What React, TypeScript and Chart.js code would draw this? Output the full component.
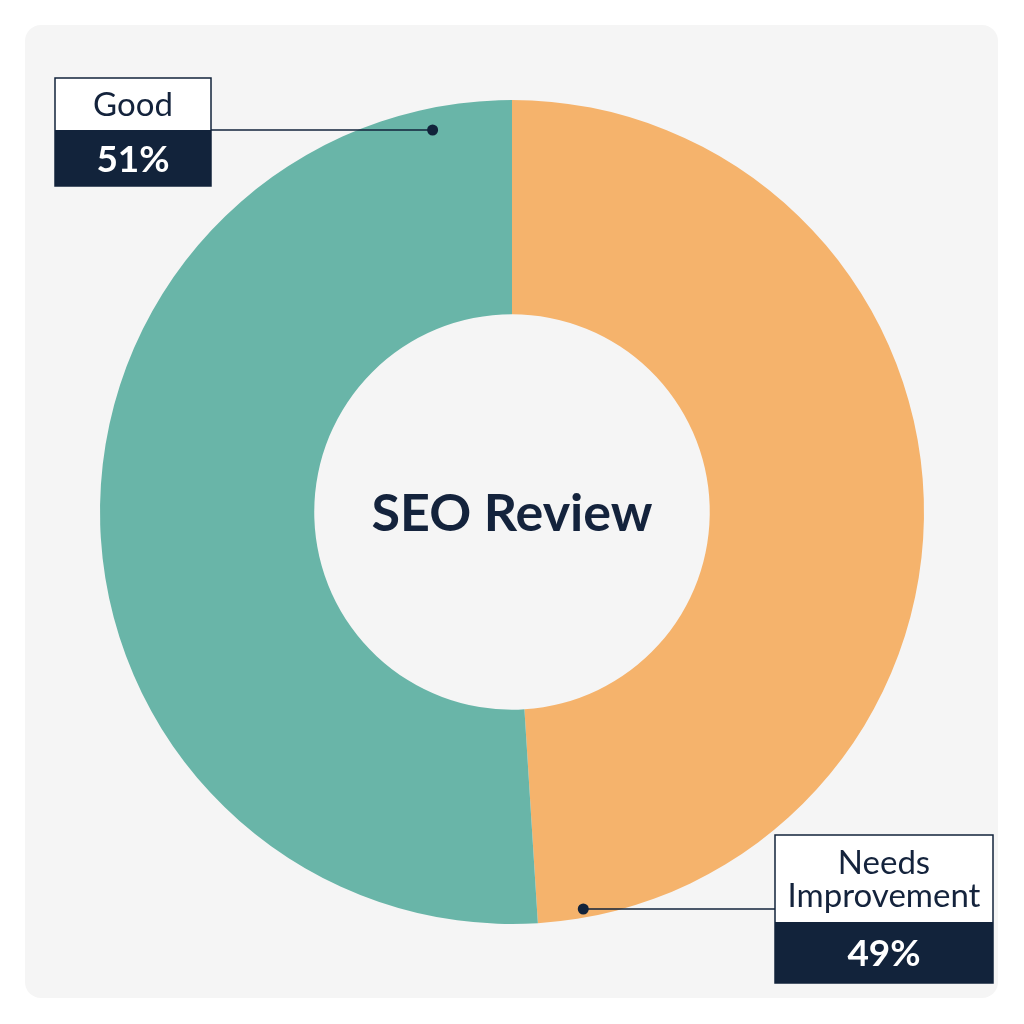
import React, { useEffect, useRef } from "react";
import { Chart, registerables } from "chart.js";

Chart.register(...registerables);

const categories = ["Needs Improvement", "Good"];
const labelLines = [["Needs", "Improvement"], ["Good"]];
const values = [49, 51];
const colors = ["#F5B36C", "#69B5A8"];
const centerTitle = "SEO Review";

const NAVY = "#12233B";
const FONT = "Lato, 'Noto Sans', sans-serif";

// callout layout (positions only)
const calloutLayout = [
  { x: 775, y: 835, w: 218, topH: 87, botH: 61, lineY: 909, rFactor: 0.979, side: "left" },
  { x: 55, y: 78, w: 156, topH: 52, botH: 56, lineY: 130, rFactor: 0.947, side: "right" },
];

const panelPlugin = {
  id: "panel",
  beforeDraw(chart: any) {
    const ctx = chart.ctx;
    ctx.save();
    ctx.fillStyle = "#FFFFFF";
    ctx.fillRect(0, 0, chart.width, chart.height);
    ctx.fillStyle = "#F5F5F5";
    ctx.beginPath();
    ctx.roundRect(25, 25, 973, 973, 16);
    ctx.fill();
    ctx.restore();
  },
};

const overlayPlugin = {
  id: "overlay",
  afterDraw(chart: any) {
    const ctx = chart.ctx;
    const meta = chart.getDatasetMeta(0);
    const arc0 = meta.data[0];
    const cx = arc0.x;
    const cy = arc0.y;
    const outerR = arc0.outerRadius;
    ctx.save();
    // center title
    ctx.fillStyle = "#14233C";
    ctx.font = `bold 52px ${FONT}`;
    ctx.textAlign = "center";
    ctx.textBaseline = "middle";
    ctx.fillText(centerTitle, cx, cy + 2);

    const total = values.reduce((a, b) => a + b, 0);
    calloutLayout.forEach((L, i) => {
      const pct = Math.round((values[i] / total) * 100);
      // connector
      const r = outerR * L.rFactor;
      const dy = L.lineY - cy;
      const dx = Math.sqrt(Math.max(0, r * r - dy * dy));
      const dotX = L.side === "right" ? cx - dx : cx + dx;
      const boxEdge = L.side === "right" ? L.x + L.w : L.x;
      ctx.strokeStyle = NAVY;
      ctx.lineWidth = 1.6;
      ctx.beginPath();
      ctx.moveTo(boxEdge, L.lineY);
      ctx.lineTo(dotX, L.lineY);
      ctx.stroke();
      ctx.fillStyle = NAVY;
      ctx.beginPath();
      ctx.arc(dotX, L.lineY, 5.5, 0, Math.PI * 2);
      ctx.fill();
      // box
      ctx.fillStyle = "#FFFFFF";
      ctx.fillRect(L.x, L.y, L.w, L.topH);
      ctx.fillStyle = NAVY;
      ctx.fillRect(L.x, L.y + L.topH, L.w, L.botH);
      ctx.strokeStyle = NAVY;
      ctx.lineWidth = 1.5;
      ctx.strokeRect(L.x, L.y, L.w, L.topH + L.botH);
      // label text
      const lines = labelLines[i];
      ctx.fillStyle = "#14233C";
      ctx.font = `33px ${FONT}`;
      ctx.textAlign = "center";
      ctx.textBaseline = "middle";
      const lh = 33;
      const midY = L.y + L.topH / 2 + 1;
      lines.forEach((t, j) => {
        ctx.fillText(t, L.x + L.w / 2, midY + (j - (lines.length - 1) / 2) * lh);
      });
      // value
      ctx.fillStyle = "#FFFFFF";
      ctx.font = `bold 37px ${FONT}`;
      ctx.fillText(`${pct}%`, L.x + L.w / 2, L.y + L.topH + L.botH / 2 + 2);
    });
    ctx.restore();
  },
};

export default function App() {
  const ref = useRef<HTMLCanvasElement | null>(null);
  useEffect(() => {
    if (!ref.current) return;
    const chart = new Chart(ref.current, {
      type: "doughnut",
      data: {
        labels: categories,
        datasets: [
          {
            data: values,
            backgroundColor: colors,
            borderWidth: 0,
          },
        ],
      },
      options: {
        responsive: false,
        animation: false,
        cutout: "48%",
        layout: { padding: 100 },
        plugins: {
          legend: { display: false },
          tooltip: { enabled: false },
        },
      },
      plugins: [panelPlugin, overlayPlugin],
    });
    return () => chart.destroy();
  }, []);
  return (
    <div style={{ position: "absolute", left: 0, top: 0, width: 1024, height: 1024 }}>
      <canvas ref={ref} width={1024} height={1024} style={{ width: 1024, height: 1024 }} />
    </div>
  );
}
